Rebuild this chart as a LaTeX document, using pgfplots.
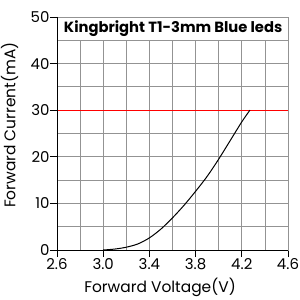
\documentclass[border=0pt]{standalone}
\usepackage{pgfplots}
\pgfplotsset{compat=1.18}
\usepackage{fontspec}
\setmainfont{Poppins}
\begin{document}
\begin{tikzpicture}[x=1bp,y=1bp]
\begin{axis}[
  at={(57bp,50bp)}, anchor=south west,
  scale only axis, width=231bp, height=233bp,
  xmin=2.6, xmax=4.6, ymin=0, ymax=50,
  xtick={2.6,3.0,3.4,3.8,4.2,4.6},
  xticklabels={2.6,3.0,3.4,3.8,4.2,4.6},
  minor xtick={2.8,3.2,3.6,4.0,4.4},
  ytick={0,10,20,30,40,50},
  minor ytick={5,15,25,35,45},
  grid=both,
  grid style={draw=gray!85, line width=0.8bp},
  major grid style={draw=gray!85, line width=0.8bp},
  minor grid style={draw=gray!85, line width=0.8bp},
  axis line style={draw=gray!85, line width=0.8bp},
  tick align=outside, xtick pos=bottom, ytick pos=left,
  major tick length=7bp, minor tick length=0pt,
  tick style={black, line width=0.8bp},
  /pgf/number format/assume math mode=true,
  ticklabel style={font=\fontsize{15}{15}\selectfont},
  xticklabel style={yshift=2bp},
  yticklabel style={xshift=3bp},
  xlabel={Forward Voltage(V)},
  ylabel={Forward Current(mA)},
  label style={font=\fontsize{15.5}{15.5}\selectfont},
  xlabel style={at={(axis description cs:0.446,-0.159)}, anchor=center},
  ylabel style={at={(axis description cs:-0.205,0.536)}, anchor=center, rotate=0},
  clip=false,
]
\fill[white] (axis cs:2.6,45) rectangle (axis cs:4.6,50);
\draw[gray!85, line width=0.8bp] (axis cs:2.6,45) -- (axis cs:4.6,45);
\draw[gray!85, line width=0.8bp] (axis cs:2.6,50) -- (axis cs:4.6,50) -- (axis cs:4.6,45);
\node[font=\fontsize{14.8}{14.8}\selectfont\bfseries, anchor=west] at (axis cs:2.63,47.6) {Kingbright T1-3mm Blue leds};
\addplot[red, line width=1bp] coordinates {(2.6,30) (4.6,30)};
\addplot[black, line width=1bp, smooth] coordinates {
(3.0,0) (3.1,0.2) (3.2,0.6) (3.3,1.3) (3.4,2.6) (3.5,4.5) (3.6,6.9) (3.7,9.6) (3.8,12.6) (3.9,15.8) (4.0,19.5) (4.1,23.5) (4.2,27.5) (4.27,30)};
\draw[black, line width=1bp] (rel axis cs:0,1) -- (rel axis cs:0,0) -- (rel axis cs:1,0);
\end{axis}
\pgfresetboundingbox
\path (0,0) rectangle (300bp,300bp);
\end{tikzpicture}
\end{document}
